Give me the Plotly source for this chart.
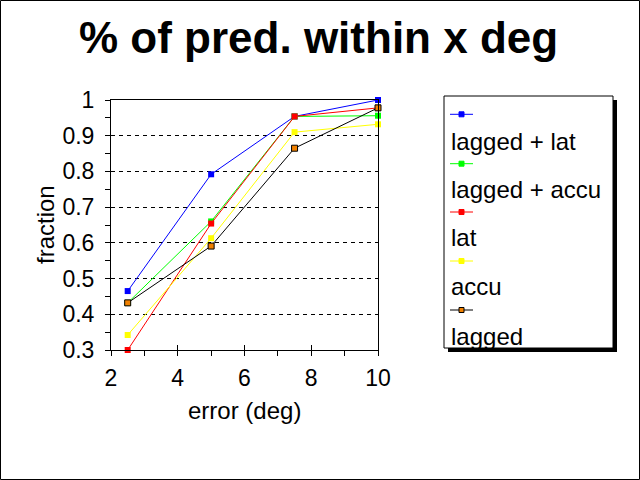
import plotly.graph_objects as go

# ---- data ----
error_deg = [2.5, 5, 7.5, 10]
series_names = ["lagged + lat", "lagged + accu", "lat", "accu", "lagged"]
lagged_lat = [0.465, 0.792, 0.954, 1.0]
lagged_accu = [0.432, 0.660, 0.954, 0.956]
lat = [0.300, 0.654, 0.954, 0.978]
accu = [0.342, 0.613, 0.910, 0.932]
lagged = [0.432, 0.591, 0.865, 0.978]
series_values = [lagged_lat, lagged_accu, lat, accu, lagged]
series_colors = ["#0000FF", "#00FF00", "#FF0000", "#FFFF00", "#000000"]
y_ticks = [0.3, 0.4, 0.5, 0.6, 0.7, 0.8, 0.9, 1.0]
y_ticklabels = ["0.3", "0.4", "0.5", "0.6", "0.7", "0.8", "0.9", "1"]
x_ticks = [2, 4, 6, 8, 10]

FONT = "Liberation Sans, Arial, sans-serif"
W, H = 640, 480
L, R, T, B = 111, 378, 100, 350


def px(x):
    return (x - L) / (R - L)


def py(y):
    return (B - y) / (B - T)


fig = go.Figure()
for name, vals, col in zip(series_names, series_values, series_colors):
    if col == "#000000":
        marker = dict(symbol="square", size=6, color="#F08000",
                      line=dict(color="black", width=1))
    else:
        marker = dict(symbol="square", size=6, color=col, line=dict(width=0))
    fig.add_trace(go.Scatter(x=error_deg, y=vals, name=name, mode="lines+markers",
                             line=dict(color=col, width=1), marker=marker,
                             cliponaxis=False, showlegend=False))

shapes = []
# outer border
shapes.append(dict(type="rect", xref="paper", yref="paper",
                   x0=px(0.5), x1=px(639.5), y0=py(0.5), y1=py(479.5),
                   line=dict(color="black", width=1), layer="below"))
# legend shadow + box
shapes.append(dict(type="rect", xref="paper", yref="paper",
                   x0=px(448), x1=px(617), y0=py(100), y1=py(352),
                   line=dict(width=0), fillcolor="black", layer="above"))
shapes.append(dict(type="rect", xref="paper", yref="paper",
                   x0=px(444), x1=px(613), y0=py(96), y1=py(348),
                   line=dict(color="black", width=1), fillcolor="white", layer="above"))

annotations = []
line_ys = [114.3, 163.7, 212, 261, 310]
text_ys = [141.7, 189.3, 237.7, 286.7, 336]
for name, col, ly, ty in zip(series_names, series_colors, line_ys, text_ys):
    shapes.append(dict(type="line", xref="paper", yref="paper",
                       x0=px(450), x1=px(473), y0=py(ly), y1=py(ly),
                       line=dict(color=col, width=1), layer="above"))
    fill = "#F08000" if col == "#000000" else col
    lc = "black" if col == "#000000" else col
    shapes.append(dict(type="rect", xref="paper", yref="paper",
                       x0=px(459), x1=px(464), y0=py(ly - 2.5), y1=py(ly + 2.5),
                       line=dict(color=lc, width=1), fillcolor=fill, layer="above"))
    annotations.append(dict(text=name, xref="paper", yref="paper",
                            x=px(449), y=py(ty), xanchor="left", yanchor="middle",
                            showarrow=False, font=dict(family=FONT, size=24, color="black")))

annotations.append(dict(text="<b>% of pred. within x deg</b>", xref="paper", yref="paper",
                        x=px(318), y=py(37), xanchor="center", yanchor="middle",
                        showarrow=False, font=dict(family=FONT, size=44, color="black")))
annotations.append(dict(text="error (deg)", xref="paper", yref="paper",
                        x=px(244.5), y=py(410), xanchor="center", yanchor="middle",
                        showarrow=False, font=dict(family=FONT, size=24, color="black")))
annotations.append(dict(text="fraction", xref="paper", yref="paper",
                        x=px(45), y=py(225), xanchor="center", yanchor="middle",
                        textangle=-90,
                        showarrow=False, font=dict(family=FONT, size=24, color="black")))

fig.update_layout(
    width=W, height=H,
    margin=dict(l=L, r=W - R, t=T, b=H - B),
    paper_bgcolor="white", plot_bgcolor="white",
    font=dict(family=FONT, size=24, color="black"),
    shapes=shapes, annotations=annotations,
    xaxis=dict(range=[2, 10], tickvals=x_ticks, ticks="outside", ticklen=5,
               tickcolor="black", showline=True, linecolor="black", linewidth=1,
               mirror=True, showgrid=False, zeroline=False,
               minor=dict(dtick=1, tick0=0, ticks="outside", ticklen=5, tickcolor="black"),
               tickfont=dict(size=23), ticklabelstandoff=2),
    xaxis2=dict(range=[2, 10], overlaying="x", anchor="y", side="bottom",
                tickvals=x_ticks, ticks="inside", ticklen=5, tickcolor="black",
                showticklabels=False, showgrid=False, zeroline=False, showline=False),
    yaxis=dict(range=[0.3, 1.0], tickvals=y_ticks, ticktext=y_ticklabels,
               ticks="outside", ticklen=5, tickcolor="black",
               showline=True, linecolor="black", linewidth=1, mirror=True,
               showgrid=True, gridcolor="black", gridwidth=1, griddash="4px,4px",
               zeroline=False,
               minor=dict(dtick=0.05, tick0=0.3, ticks="outside", ticklen=5,
                          tickcolor="black", showgrid=False),
               tickfont=dict(size=23), ticklabelstandoff=6),
)
fig.add_trace(go.Scatter(x=[2, 10], y=[0.3, 0.3], xaxis="x2", mode="none",
                         showlegend=False, hoverinfo="skip"))

fig.write_html("out.html")
